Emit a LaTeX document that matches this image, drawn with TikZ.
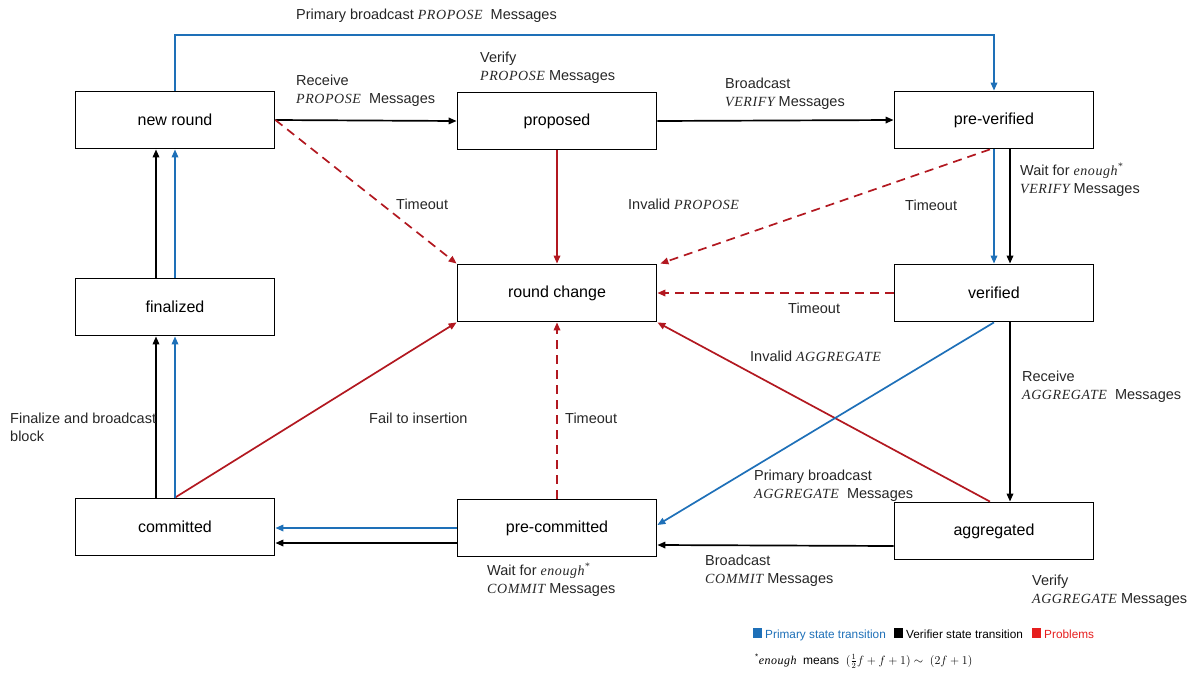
\RequirePackage{fix-cm}
\documentclass[tikz,border=0pt]{standalone}
\usepackage{fontspec}
\setmainfont{Liberation Sans}
\newfontfamily\mifont{Liberation Serif}[LetterSpace=4]
\usetikzlibrary{arrows.meta}
\definecolor{pblue}{RGB}{30,112,184}
\definecolor{pred}{RGB}{178,24,32}
\definecolor{lred}{RGB}{230,30,30}
\newcommand{\mi}[1]{{\fontsize{14}{18}\mifont\itshape #1}}
\tikzset{
  state/.style={draw=black, line width=1.8pt, minimum width=199pt, minimum height=57pt, inner sep=0pt, font=\fontsize{16}{18}\selectfont, fill=white},
  lbl/.style={anchor=base west, inner sep=0pt, align=left, font=\fontsize{14.5}{18}\selectfont, text=black!85},
  conn/.style={line width=1.7pt, -{Triangle[length=8pt,width=6.5pt]}},
  bl/.style={conn, draw=pblue},
  bk/.style={conn, draw=black},
  rd/.style={conn, draw=pred},
  rdd/.style={conn, draw=pred, dash pattern=on 9pt off 6pt},
  lgd/.style={anchor=base west, inner sep=0pt, font=\fontsize{11.8}{13}\selectfont},
}
\begin{document}
\begin{tikzpicture}[x=1pt,y=-1pt]
\useasboundingbox (0,0) rectangle (1195,673);

% states
\node[state] (nr) at (175,120) {new round};
\node[state] (pr) at (557,121) {proposed};
\node[state] (pv) at (994,120) {pre-verified};
\node[state] (rc) at (557,293) {round change};
\node[state] (vf) at (994,293) {verified};
\node[state] (fn) at (175,307) {finalized};
\node[state] (cm) at (175,527) {committed};
\node[state] (pc) at (557,528) {pre-committed};
\node[state] (ag) at (994,531) {aggregated};

% top blue
\coordinate (t1) at (175,35);
\coordinate (t2) at (994,35);
\draw[bl] (nr.north) -- (t1) -- (t2) -- (pv.north);

% top row black
\draw[bk] (nr.east) -- (pr.west);
\draw[bk] (pr.east) -- (pv.west);

% problems to round change
\draw[rdd] (nr.east) -- (rc.north west);
\draw[rd] (pr.south) -- (rc.north);
\draw[rdd] ([xshift=-4pt]pv.south) -- ([xshift=3pt]rc.north east);
\draw[rdd] (vf.west) -- (rc.east);
\draw[rd] ([xshift=-4pt]ag.north) -- (rc.south east);
\draw[rdd] (pc.north) -- (rc.south);
\draw[rd] (cm.north) -- (rc.south west);

% right column
\draw[bl] (pv.south) -- (vf.north);
\draw[bk] ([xshift=16pt]pv.south) -- ([xshift=16pt]vf.north);
\draw[bk] ([xshift=16pt]vf.south) -- ([xshift=16pt]ag.north);
\draw[bl] (vf.south) -- ([yshift=3pt]pc.east);

% bottom row
\draw[bk] ([yshift=-15pt]ag.west) -- ([yshift=-17pt]pc.east);
\draw[bl] (pc.west) -- ([yshift=-1pt]cm.east);
\draw[bk] ([yshift=-15pt]pc.west) -- ([yshift=-16pt]cm.east);

% left column
\draw[bk] ([xshift=-19pt]cm.north) -- ([xshift=-19pt]fn.south);
\draw[bl] (cm.north) -- (fn.south);
\draw[bk] ([xshift=-19pt]fn.north) -- ([xshift=-19pt]nr.south);
\draw[bl] (fn.north) -- (nr.south);

% labels (base = baseline of last line)
\node[lbl] (l1) at (296,19) {Primary broadcast \mi{PROPOSE}\ \ Messages};
\node[lbl] (l2) at (296,103) {Receive\\\mi{PROPOSE}\ \ Messages};
\node[lbl] (l3) at (480,80) {Verify\\\mi{PROPOSE} Messages};
\node[lbl] (l4) at (725,106) {Broadcast\\\mi{VERIFY} Messages};
\node[lbl] (l5) at (396,209) {Timeout};
\node[lbl] (l6) at (628,209) {Invalid \mi{PROPOSE}};
\node[lbl] (l7) at (905,210) {Timeout};
\node[lbl] (l8) at (1020,193) {Wait for \mi{enough\textsuperscript{*}}\\\mi{VERIFY} Messages};
\node[lbl] (l9) at (788,313) {Timeout};
\node[lbl] (l10) at (750,361) {Invalid \mi{AGGREGATE}};
\node[lbl] (l11) at (1022,399) {Receive\\\mi{AGGREGATE}\ \ Messages};
\node[lbl] (l12) at (10,441) {Finalize and broadcast\\block};
\node[lbl] (l13) at (369,423) {Fail to insertion};
\node[lbl] (l14) at (565,423) {Timeout};
\node[lbl] (l15) at (754,498) {Primary broadcast\\\mi{AGGREGATE}\ \ Messages};
\node[lbl] (l16) at (487,593) {Wait for \mi{enough\textsuperscript{*}}\\\mi{COMMIT} Messages};
\node[lbl] (l17) at (705,583) {Broadcast\\\mi{COMMIT} Messages};
\node[lbl] (l18) at (1032,603) {Verify\\\mi{AGGREGATE} Messages};

% legend
\fill[pblue] (753,628) rectangle (762,638);
\node[lgd, text=pblue] (lg1) at (765,638) {Primary state transition};
\fill[black] (894,628) rectangle (903,638);
\node[lgd] (lg2) at (906,638) {Verifier state transition};
\fill[lred] (1032,628) rectangle (1041,638);
\node[lgd, text=lred] (lg3) at (1044,638) {Problems};
\node[anchor=base west, inner sep=0pt, font=\fontsize{12}{13}\selectfont] (fnote) at (755,664) {\textsuperscript{*}{\mifont\itshape enough}\ \ means\ \ $(\textstyle\frac{1}{2}f+f+1)\sim\ (2f+1)$};
\end{tikzpicture}
\end{document}
